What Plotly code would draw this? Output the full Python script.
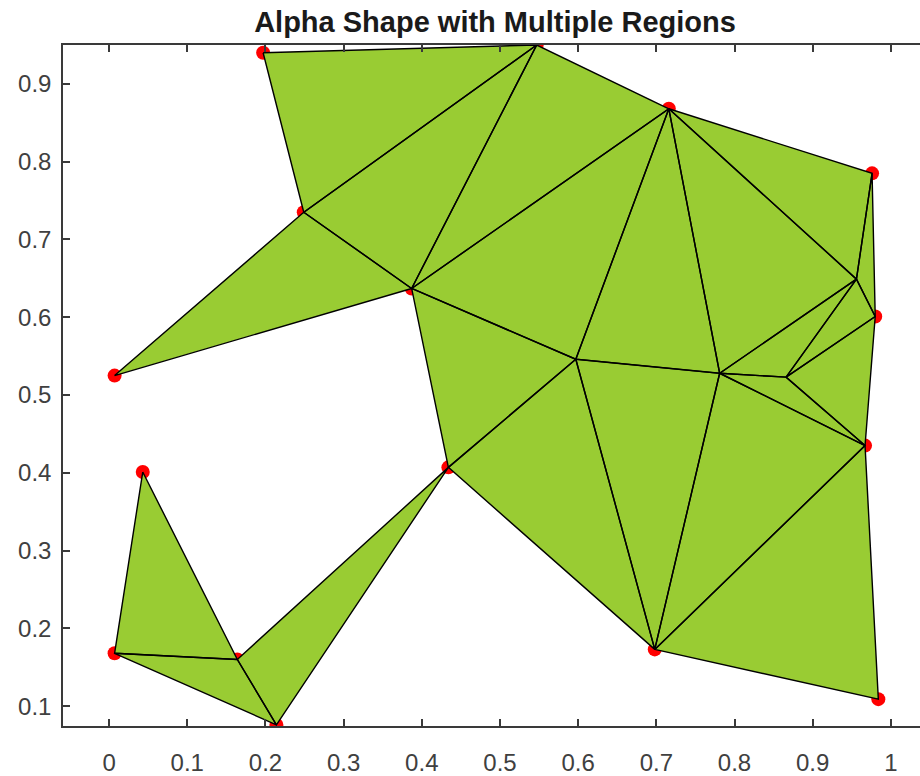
import plotly.graph_objects as go

# Point coordinates (alpha-shape vertices)
x_pts = [0.197, 0.547, 0.716, 0.976, 0.249, 0.387, 0.007, 0.956, 0.980, 0.597,
         0.781, 0.866, 0.967, 0.434, 0.698, 0.984, 0.043, 0.007, 0.164, 0.214]
y_pts = [0.940, 0.950, 0.868, 0.785, 0.735, 0.637, 0.525, 0.649, 0.601, 0.546,
         0.528, 0.523, 0.435, 0.407, 0.173, 0.109, 0.401, 0.168, 0.160, 0.076]

# Triangle vertex indices
tri_a = [0, 4, 4, 5, 5, 5, 2, 2, 2, 3, 7, 7, 11, 10, 9, 10, 14, 9, 16, 17, 18]
tri_b = [4, 5, 6, 1, 2, 9, 9, 10, 7, 7, 11, 10, 8, 11, 10, 12, 12, 13, 17, 18, 19]
tri_c = [1, 1, 5, 2, 9, 13, 10, 7, 3, 8, 8, 11, 12, 12, 14, 14, 15, 14, 18, 19, 13]

x_ticks = [0, 0.1, 0.2, 0.3, 0.4, 0.5, 0.6, 0.7, 0.8, 0.9, 1]
x_labels = ["0", "0.1", "0.2", "0.3", "0.4", "0.5", "0.6", "0.7", "0.8", "0.9", "1"]
y_ticks = [0.1, 0.2, 0.3, 0.4, 0.5, 0.6, 0.7, 0.8, 0.9]
y_labels = ["0.1", "0.2", "0.3", "0.4", "0.5", "0.6", "0.7", "0.8", "0.9"]

px, py = [], []
for a, b, c in zip(tri_a, tri_b, tri_c):
    for i in (a, b, c, a):
        px.append(x_pts[i])
        py.append(y_pts[i])
    px.append(None)
    py.append(None)

fig = go.Figure()
fig.add_trace(go.Scatter(x=x_pts, y=y_pts, mode="markers",
                         marker=dict(color="red", size=14, line=dict(width=0)),
                         hoverinfo="skip"))
fig.add_trace(go.Scatter(x=px, y=py, mode="lines", fill="toself",
                         fillcolor="#99CC33",
                         line=dict(color="black", width=1.4),
                         hoverinfo="skip"))

font = "Liberation Sans, Arial, sans-serif"
fig.update_layout(
    width=920, height=776,
    margin=dict(l=63, r=0, t=45, b=45),
    paper_bgcolor="white", plot_bgcolor="white",
    showlegend=False,
    title=dict(text="<b>Alpha Shape with Multiple Regions</b>",
               font=dict(family=font, size=29, color="#1a1a1a"),
               x=495 / 920, xref="container", xanchor="center",
               y=1 - 22 / 776, yref="container", yanchor="middle"),
    font=dict(family=font),
)
fig.update_xaxes(range=[-0.059, 1.0373], tickvals=x_ticks, ticktext=x_labels,
                 showgrid=False, zeroline=False, showline=True,
                 linecolor="#3a3a3a", linewidth=1.5, mirror="ticks",
                 ticks="inside", ticklen=7, tickcolor="#3a3a3a", tickwidth=1.5,
                 tickfont=dict(family=font, size=24, color="#404040"),
                 ticklabelstandoff=14)
fig.update_yaxes(range=[0.0745, 0.950], tickvals=y_ticks, ticktext=y_labels,
                 showgrid=False, zeroline=False, showline=True,
                 linecolor="#3a3a3a", linewidth=1.5, mirror=False,
                 ticks="inside", ticklen=7, tickcolor="#3a3a3a", tickwidth=1.5,
                 tickfont=dict(family=font, size=24, color="#404040"),
                 ticklabelstandoff=5)

fig.write_html("out.html",
               config={"displayModeBar": False},
               post_script="document.body.style.margin='0px';"
                           "document.body.style.overflow='hidden';")
